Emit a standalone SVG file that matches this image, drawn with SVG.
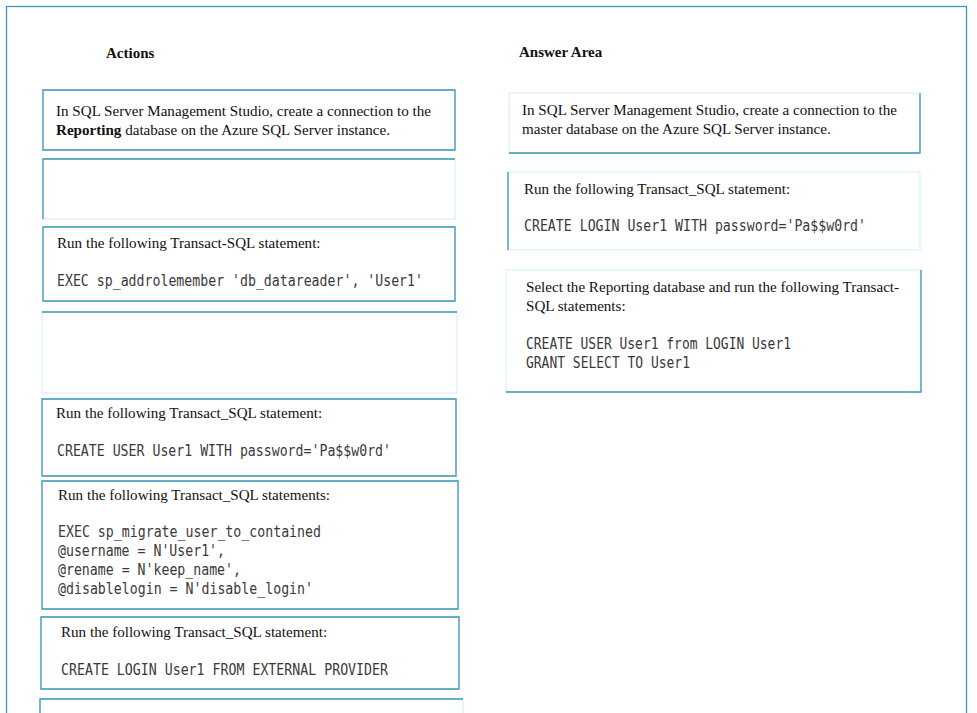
<svg xmlns="http://www.w3.org/2000/svg" width="977" height="713" viewBox="0 0 977 713">
<style>
.bg{fill:#ffffff}
.frame{fill:none;stroke:#3f95b5;stroke-width:1.3}
.box{fill:#ffffff;stroke:#d6f1f8;stroke-width:1.2}
.edge{stroke:#3f95b5;stroke-width:1.3;fill:none}
.t{font-family:"Liberation Serif","Times New Roman",serif;font-size:15.1px;fill:#111}
.h{font-family:"Liberation Serif","Times New Roman",serif;font-size:15px;font-weight:bold;fill:#111}
.c{font-family:"DejaVu Sans Mono","Liberation Mono",monospace;font-size:15px;fill:#3a3a3a}
</style>
<rect class="bg" x="0" y="0" width="977" height="713"/>
<rect class="frame" x="6.5" y="6.5" width="960" height="720"/>
<text class="h" x="106" y="58">Actions</text>
<text class="h" x="519" y="57">Answer Area</text>

<g id="action1">
<rect class="box" x="43" y="90" width="412" height="60"/>
<path class="edge" d="M43 90H455V150H43Z"/>
<text class="t" x="56" y="116">In SQL Server Management Studio, create a connection to the</text>
<text class="t" x="56" y="135"><tspan font-weight="bold">Reporting</tspan> database on the Azure SQL Server instance.</text>
</g>

<g id="action2">
<rect class="box" x="43" y="159" width="412" height="60"/>
<path class="edge" d="M43 219V159H455"/>
</g>

<g id="action3">
<rect class="box" x="43" y="227" width="412" height="74"/>
<path class="edge" d="M43 227H455V301H43Z"/>
<text class="t" x="57" y="248">Run the following Transact-SQL statement:</text>
<text class="c" x="57" y="286" textLength="366" lengthAdjust="spacingAndGlyphs">EXEC sp_addrolemember 'db_datareader', 'User1'</text>
</g>

<g id="action4">
<rect class="box" x="42" y="312" width="415" height="81"/>
<path class="edge" d="M42 312H457"/>
</g>

<g id="action5">
<rect class="box" x="42" y="399" width="414" height="77"/>
<path class="edge" d="M42 399H456V476H42Z"/>
<text class="t" x="56" y="418">Run the following Transact_SQL statement:</text>
<text class="c" x="57" y="456" textLength="334" lengthAdjust="spacingAndGlyphs">CREATE USER User1 WITH password='Pa$$w0rd'</text>
</g>

<g id="action6">
<rect class="box" x="42" y="481" width="416" height="128"/>
<path class="edge" d="M42 481H458V609H42Z"/>
<text class="t" x="58" y="500">Run the following Transact_SQL statements:</text>
<text class="c" x="58" y="537" textLength="263" lengthAdjust="spacingAndGlyphs">EXEC sp_migrate_user_to_contained</text>
<text class="c" x="58" y="556" textLength="167" lengthAdjust="spacingAndGlyphs">@username = N'User1',</text>
<text class="c" x="58" y="575" textLength="183" lengthAdjust="spacingAndGlyphs">@rename = N'keep_name',</text>
<text class="c" x="58" y="594" textLength="255" lengthAdjust="spacingAndGlyphs">@disablelogin = N'disable_login'</text>
</g>

<g id="action7">
<rect class="box" x="41" y="617" width="418" height="72"/>
<path class="edge" d="M41 617H459V689H41Z"/>
<text class="t" x="61" y="637">Run the following Transact_SQL statement:</text>
<text class="c" x="61" y="675" textLength="327" lengthAdjust="spacingAndGlyphs">CREATE LOGIN User1 FROM EXTERNAL PROVIDER</text>
</g>

<g id="action8">
<rect class="box" x="40" y="699" width="423" height="30"/>
<path class="edge" d="M40 720V699H463"/>
</g>

<g id="answer1">
<rect class="box" x="509" y="93" width="411" height="60"/>
<path class="edge" d="M920 93V153H509"/>
<text class="t" x="522" y="115">In SQL Server Management Studio, create a connection to the</text>
<text class="t" x="522" y="134">master database on the Azure SQL Server instance.</text>
</g>

<g id="answer2">
<rect class="box" x="508" y="172" width="412" height="78"/>
<path class="edge" d="M508 172V250"/>
<text class="t" x="524" y="194">Run the following Transact_SQL statement:</text>
<text class="c" x="524" y="231" textLength="342" lengthAdjust="spacingAndGlyphs">CREATE LOGIN User1 WITH password='Pa$$w0rd'</text>
</g>

<g id="answer3">
<rect class="box" x="506" y="270" width="415" height="122"/>
<path class="edge" d="M921 270V392H506"/>
<text class="t" x="526" y="292">Select the Reporting database and run the following Transact-</text>
<text class="t" x="526" y="311">SQL statements:</text>
<text class="c" x="526" y="349" textLength="265" lengthAdjust="spacingAndGlyphs">CREATE USER User1 from LOGIN User1</text>
<text class="c" x="526" y="368" textLength="164" lengthAdjust="spacingAndGlyphs">GRANT SELECT TO User1</text>
</g>

<g id="connectors"></g>
</svg>
